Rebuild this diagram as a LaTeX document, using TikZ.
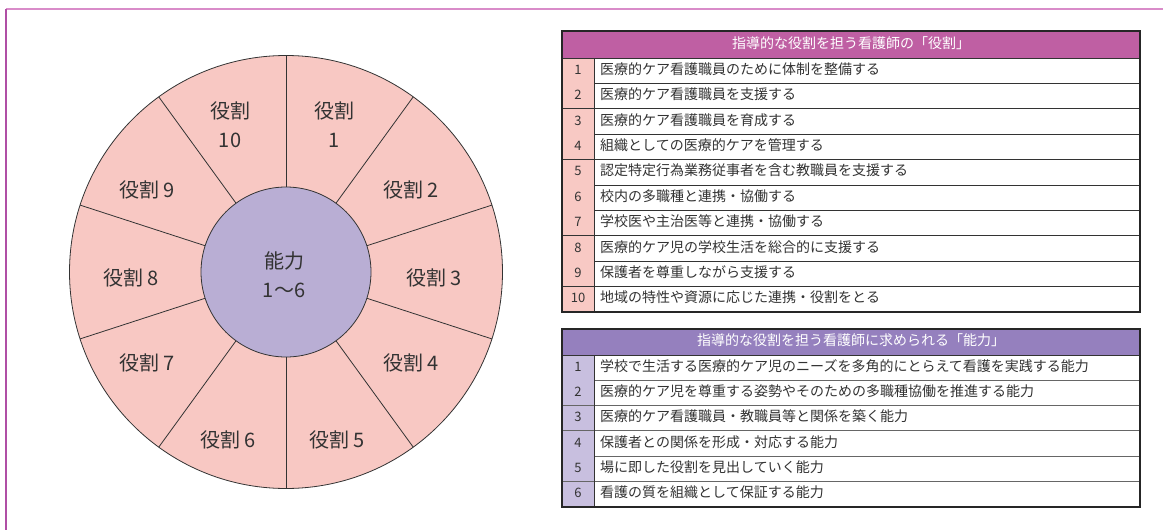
\documentclass[tikz,border=0pt]{standalone}
\usepackage{fontspec}
\setmainfont{Noto Sans CJK JP}
\definecolor{wheelpink}{HTML}{F8C8C3}
\definecolor{corelav}{HTML}{B9AED4}
\definecolor{hdrmag}{HTML}{BF5FA3}
\definecolor{hdrpur}{HTML}{9580BE}
\definecolor{numpink}{HTML}{F8C9C4}
\definecolor{numlav}{HTML}{C8BFDF}
\definecolor{txtgray}{HTML}{333333}
\definecolor{frametop}{HTML}{D98CC9}
\definecolor{frameleft}{HTML}{B04FA5}
\tikzset{
  wheelline/.style={draw=txtgray, line width=0.8pt},
  wheellabel/.style={text=txtgray, font=\fontsize{20pt}{30pt}\selectfont, align=center, inner sep=0pt},
  hdrtxt/.style={text=white, font=\fontsize{14pt}{16pt}\selectfont, inner sep=0pt, text height=0.85em, text depth=0.15em},
  rowtxt/.style={text=txtgray, font=\fontsize{14pt}{16pt}\selectfont, inner sep=0pt, anchor=west, text height=0.85em, text depth=0.15em},
  numtxt/.style={text=txtgray, font=\fontsize{13pt}{15pt}\selectfont, inner sep=0pt, text height=0.85em, text depth=0.15em},
  tblborder/.style={draw=black!85, line width=1.2pt},
  rowlineA/.style={draw=black!80, line width=0.9pt},
  rowlineB/.style={draw=black!60, line width=0.9pt},
}
\begin{document}
\begin{tikzpicture}[x=1pt,y=-1pt]
\useasboundingbox (0,0) rectangle (1163,530);
\fill[white] (0,0) rectangle (1163,530);
% frame
\draw[frametop, line width=1.5pt] (6,9) -- (1163,9);
\draw[frameleft, line width=1.5pt] (6,9) -- (6,530);

% wheel
\coordinate (C) at (286,272);
\fill[wheelpink] (C) circle (216.5pt);
\draw[wheelline] (C) circle (216.5pt);
\foreach \a in {90,54,18,-18,-54,-90,-126,-162,162,126}
  \draw[wheelline] ([shift={(\a:85pt)}]C) -- ([shift={(\a:216.5pt)}]C);
\node[circle, fill=corelav, wheelline, minimum size=170pt, inner sep=0pt] (core) at (C) {};
\node[wheellabel] (coretxt) at (284,275) {能力\\[-1pt]1〜6};

\node[wheellabel] (r1) at (334,125) {役割\\[-1pt]1};
\node[wheellabel] (r10) at (230,125) {役割\\[-1pt]10};
\node[wheellabel] (r2) at (411,190) {役割\,2};
\node[wheellabel] (r3) at (434,278) {役割\,3};
\node[wheellabel] (r4) at (411,363) {役割\,4};
\node[wheellabel] (r5) at (337,440) {役割\,5};
\node[wheellabel] (r6) at (228,440) {役割\,6};
\node[wheellabel] (r7) at (147,363) {役割\,7};
\node[wheellabel] (r8) at (131,278) {役割\,8};
\node[wheellabel] (r9) at (147,190) {役割\,9};

% table 1
\fill[hdrmag] (562,31) rectangle (1140,58);
\node[hdrtxt] (h1) at (851,44.5) {指導的な役割を担う看護師の「役割」};
\foreach \n/\t in {1/医療的ケア看護職員のために体制を整備する,
                   2/医療的ケア看護職員を支援する,
                   3/医療的ケア看護職員を育成する,
                   4/組織としての医療的ケアを管理する,
                   5/認定特定行為業務従事者を含む教職員を支援する,
                   6/校内の多職種と連携・協働する,
                   7/学校医や主治医等と連携・協働する,
                   8/医療的ケア児の学校生活を総合的に支援する,
                   9/保護者を尊重しながら支援する,
                   10/地域の特性や資源に応じた連携・役割をとる}{
  \pgfmathsetmacro\yt{58+25.4*(\n-1)}
  \pgfmathsetmacro\yb{\yt+25.4}
  \pgfmathsetmacro\ym{\yt+12.7}
  \fill[numpink] (562,\yt) rectangle (594,\yb);
  \draw[rowlineA] (562,\yb) -- (1140,\yb);
  \node[numtxt] (tA\n) at (578,\ym) {\n};
  \node[rowtxt] (tAt\n) at (600,\ym) {\t};
}
\draw[rowlineA] (562,58) -- (1140,58);
\draw[rowlineA] (594,58) -- (594,312);
\draw[tblborder] (562,31) rectangle (1140,312);

% table 2
\fill[hdrpur] (562,329) rectangle (1140,355);
\node[hdrtxt] (h2) at (851,342) {指導的な役割を担う看護師に求められる「能力」};
\foreach \n/\t in {1/学校で生活する医療的ケア児のニーズを多角的にとらえて看護を実践する能力,
                   2/医療的ケア児を尊重する姿勢やそのための多職種協働を推進する能力,
                   3/医療的ケア看護職員・教職員等と関係を築く能力,
                   4/保護者との関係を形成・対応する能力,
                   5/場に即した役割を見出していく能力,
                   6/看護の質を組織として保証する能力}{
  \pgfmathsetmacro\yt{355+25.3*(\n-1)}
  \pgfmathsetmacro\yb{\yt+25.3}
  \pgfmathsetmacro\ym{\yt+12.65}
  \fill[numlav] (562,\yt) rectangle (594,\yb);
  \draw[rowlineB] (562,\yb) -- (1140,\yb);
  \node[numtxt] (tB\n) at (578,\ym) {\n};
  \node[rowtxt] (tBt\n) at (600,\ym) {\t};
}
\draw[rowlineA] (562,355) -- (1140,355);
\draw[rowlineA] (594,355) -- (594,507);
\draw[tblborder] (562,329) rectangle (1140,507);
\end{tikzpicture}
\end{document}
